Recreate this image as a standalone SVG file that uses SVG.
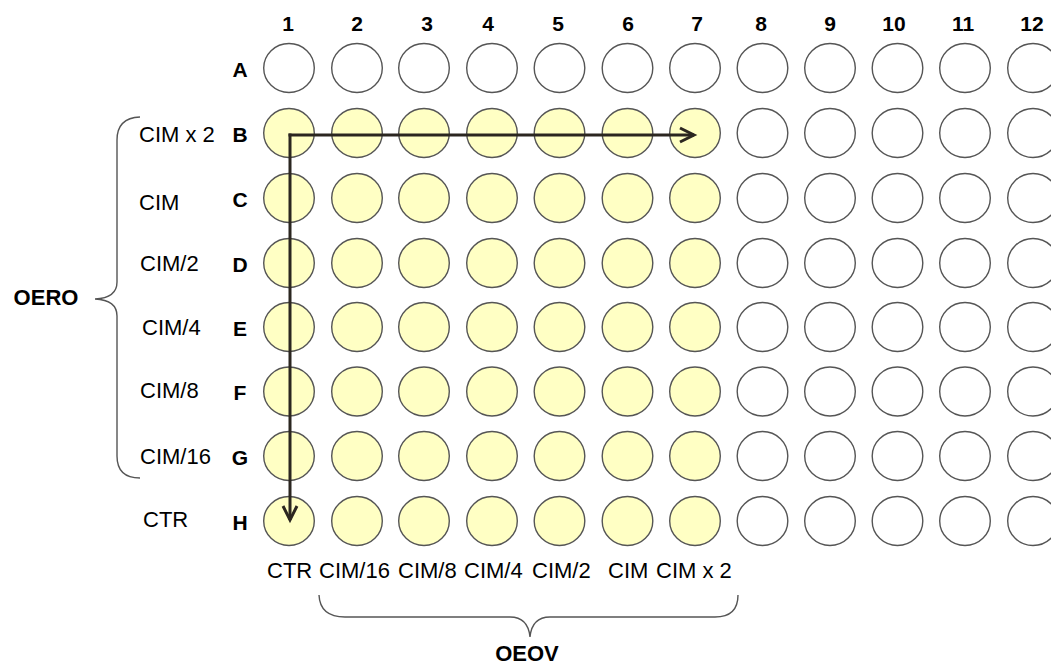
<svg xmlns="http://www.w3.org/2000/svg" width="1051" height="666" viewBox="0 0 1051 666">
<style>
.w{fill:#ffffff;stroke:#555555;stroke-width:1.4}
.y{fill:#ffffc4;stroke:#555555;stroke-width:1.4}
.hd{font-family:"Liberation Sans",Arial,sans-serif;font-weight:bold;font-size:21px;fill:#000;text-anchor:middle}
.lb{font-family:"Liberation Sans",Arial,sans-serif;font-size:22px;fill:#000}
.br{fill:none;stroke:#555555;stroke-width:1.4}
.ar{fill:none;stroke:#2b2620;stroke-width:3}
</style>
<defs>
<marker id="chev" markerUnits="userSpaceOnUse" markerWidth="20" markerHeight="20" viewBox="-16 -10 20 20" refX="0" refY="0" orient="auto">
<path d="M -14 -7 L 0 0 L -14 7" fill="none" stroke="#2b2620" stroke-width="3"/>
</marker>
</defs>
<g id="col-labels">
<text class="hd" x="288" y="31">1</text>
<text class="hd" x="357" y="31">2</text>
<text class="hd" x="427" y="31">3</text>
<text class="hd" x="488" y="31">4</text>
<text class="hd" x="558" y="31">5</text>
<text class="hd" x="628" y="31">6</text>
<text class="hd" x="697" y="31">7</text>
<text class="hd" x="761" y="31">8</text>
<text class="hd" x="830" y="31">9</text>
<text class="hd" x="894" y="31">10</text>
<text class="hd" x="963" y="31">11</text>
<text class="hd" x="1032" y="31">12</text>
</g>
<g id="row-labels">
<text class="hd" x="240" y="77">A</text>
<text class="hd" x="240" y="142">B</text>
<text class="hd" x="240" y="207">C</text>
<text class="hd" x="240" y="272">D</text>
<text class="hd" x="240" y="336">E</text>
<text class="hd" x="240" y="400">F</text>
<text class="hd" x="240" y="465">G</text>
<text class="hd" x="240" y="530">H</text>
</g>
<g id="oero-labels">
<text class="lb" x="139" y="142">CIM x 2</text>
<text class="lb" x="139" y="210">CIM</text>
<text class="lb" x="140" y="271">CIM/2</text>
<text class="lb" x="142" y="335">CIM/4</text>
<text class="lb" x="140" y="398">CIM/8</text>
<text class="lb" x="140" y="464">CIM/16</text>
<text class="lb" x="143" y="527">CTR</text>
</g>
<g id="oero">
<path class="br" d="M 140 117 Q 117 118 117 140 L 117 282 Q 117 298 95 299 Q 117 300 117 316 L 117 456 Q 117 478 140 478"/>
<text class="hd" x="46" y="305" style="font-size:22px">OERO</text>
</g>
<g id="oeov-labels">
<text class="lb" x="267" y="578">CTR</text>
<text class="lb" x="319" y="578">CIM/16</text>
<text class="lb" x="398" y="578">CIM/8</text>
<text class="lb" x="464" y="578">CIM/4</text>
<text class="lb" x="532" y="578">CIM/2</text>
<text class="lb" x="608" y="578">CIM</text>
<text class="lb" x="656" y="578">CIM x 2</text>
</g>
<g id="oeov">
<path class="br" d="M 319 595 Q 320 617 345 617 L 510 617 Q 528 617 530 637 Q 532 617 550 617 L 715 617 Q 738 617 738 595"/>
<text class="hd" x="527" y="661" style="font-size:22px">OEOV</text>
</g>
<g id="wells">
<g id="A1"><ellipse class="w" cx="289" cy="68" rx="25.3" ry="24.5"/></g>
<g id="A2"><ellipse class="w" cx="357" cy="68" rx="25.3" ry="24.5"/></g>
<g id="A3"><ellipse class="w" cx="424" cy="68" rx="25.3" ry="24.5"/></g>
<g id="A4"><ellipse class="w" cx="492" cy="68" rx="25.3" ry="24.5"/></g>
<g id="A5"><ellipse class="w" cx="559.5" cy="68" rx="25.3" ry="24.5"/></g>
<g id="A6"><ellipse class="w" cx="627.5" cy="68" rx="25.3" ry="24.5"/></g>
<g id="A7"><ellipse class="w" cx="695" cy="68" rx="25.3" ry="24.5"/></g>
<g id="A8"><ellipse class="w" cx="762.5" cy="68" rx="25.3" ry="24.5"/></g>
<g id="A9"><ellipse class="w" cx="830" cy="68" rx="25.3" ry="24.5"/></g>
<g id="A10"><ellipse class="w" cx="897.5" cy="68" rx="25.3" ry="24.5"/></g>
<g id="A11"><ellipse class="w" cx="965" cy="68" rx="25.3" ry="24.5"/></g>
<g id="A12"><ellipse class="w" cx="1033" cy="68" rx="25.3" ry="24.5"/></g>
<g id="B1"><ellipse class="y" cx="289" cy="133" rx="25.3" ry="24.5"/></g>
<g id="B2"><ellipse class="y" cx="357" cy="133" rx="25.3" ry="24.5"/></g>
<g id="B3"><ellipse class="y" cx="424" cy="133" rx="25.3" ry="24.5"/></g>
<g id="B4"><ellipse class="y" cx="492" cy="133" rx="25.3" ry="24.5"/></g>
<g id="B5"><ellipse class="y" cx="559.5" cy="133" rx="25.3" ry="24.5"/></g>
<g id="B6"><ellipse class="y" cx="627.5" cy="133" rx="25.3" ry="24.5"/></g>
<g id="B7"><ellipse class="y" cx="695" cy="133" rx="25.3" ry="24.5"/></g>
<g id="B8"><ellipse class="w" cx="762.5" cy="133" rx="25.3" ry="24.5"/></g>
<g id="B9"><ellipse class="w" cx="830" cy="133" rx="25.3" ry="24.5"/></g>
<g id="B10"><ellipse class="w" cx="897.5" cy="133" rx="25.3" ry="24.5"/></g>
<g id="B11"><ellipse class="w" cx="965" cy="133" rx="25.3" ry="24.5"/></g>
<g id="B12"><ellipse class="w" cx="1033" cy="133" rx="25.3" ry="24.5"/></g>
<g id="C1"><ellipse class="y" cx="289" cy="198" rx="25.3" ry="24.5"/></g>
<g id="C2"><ellipse class="y" cx="357" cy="198" rx="25.3" ry="24.5"/></g>
<g id="C3"><ellipse class="y" cx="424" cy="198" rx="25.3" ry="24.5"/></g>
<g id="C4"><ellipse class="y" cx="492" cy="198" rx="25.3" ry="24.5"/></g>
<g id="C5"><ellipse class="y" cx="559.5" cy="198" rx="25.3" ry="24.5"/></g>
<g id="C6"><ellipse class="y" cx="627.5" cy="198" rx="25.3" ry="24.5"/></g>
<g id="C7"><ellipse class="y" cx="695" cy="198" rx="25.3" ry="24.5"/></g>
<g id="C8"><ellipse class="w" cx="762.5" cy="198" rx="25.3" ry="24.5"/></g>
<g id="C9"><ellipse class="w" cx="830" cy="198" rx="25.3" ry="24.5"/></g>
<g id="C10"><ellipse class="w" cx="897.5" cy="198" rx="25.3" ry="24.5"/></g>
<g id="C11"><ellipse class="w" cx="965" cy="198" rx="25.3" ry="24.5"/></g>
<g id="C12"><ellipse class="w" cx="1033" cy="198" rx="25.3" ry="24.5"/></g>
<g id="D1"><ellipse class="y" cx="289" cy="263" rx="25.3" ry="24.5"/></g>
<g id="D2"><ellipse class="y" cx="357" cy="263" rx="25.3" ry="24.5"/></g>
<g id="D3"><ellipse class="y" cx="424" cy="263" rx="25.3" ry="24.5"/></g>
<g id="D4"><ellipse class="y" cx="492" cy="263" rx="25.3" ry="24.5"/></g>
<g id="D5"><ellipse class="y" cx="559.5" cy="263" rx="25.3" ry="24.5"/></g>
<g id="D6"><ellipse class="y" cx="627.5" cy="263" rx="25.3" ry="24.5"/></g>
<g id="D7"><ellipse class="y" cx="695" cy="263" rx="25.3" ry="24.5"/></g>
<g id="D8"><ellipse class="w" cx="762.5" cy="263" rx="25.3" ry="24.5"/></g>
<g id="D9"><ellipse class="w" cx="830" cy="263" rx="25.3" ry="24.5"/></g>
<g id="D10"><ellipse class="w" cx="897.5" cy="263" rx="25.3" ry="24.5"/></g>
<g id="D11"><ellipse class="w" cx="965" cy="263" rx="25.3" ry="24.5"/></g>
<g id="D12"><ellipse class="w" cx="1033" cy="263" rx="25.3" ry="24.5"/></g>
<g id="E1"><ellipse class="y" cx="289" cy="327" rx="25.3" ry="24.5"/></g>
<g id="E2"><ellipse class="y" cx="357" cy="327" rx="25.3" ry="24.5"/></g>
<g id="E3"><ellipse class="y" cx="424" cy="327" rx="25.3" ry="24.5"/></g>
<g id="E4"><ellipse class="y" cx="492" cy="327" rx="25.3" ry="24.5"/></g>
<g id="E5"><ellipse class="y" cx="559.5" cy="327" rx="25.3" ry="24.5"/></g>
<g id="E6"><ellipse class="y" cx="627.5" cy="327" rx="25.3" ry="24.5"/></g>
<g id="E7"><ellipse class="y" cx="695" cy="327" rx="25.3" ry="24.5"/></g>
<g id="E8"><ellipse class="w" cx="762.5" cy="327" rx="25.3" ry="24.5"/></g>
<g id="E9"><ellipse class="w" cx="830" cy="327" rx="25.3" ry="24.5"/></g>
<g id="E10"><ellipse class="w" cx="897.5" cy="327" rx="25.3" ry="24.5"/></g>
<g id="E11"><ellipse class="w" cx="965" cy="327" rx="25.3" ry="24.5"/></g>
<g id="E12"><ellipse class="w" cx="1033" cy="327" rx="25.3" ry="24.5"/></g>
<g id="F1"><ellipse class="y" cx="289" cy="391.5" rx="25.3" ry="24.5"/></g>
<g id="F2"><ellipse class="y" cx="357" cy="391.5" rx="25.3" ry="24.5"/></g>
<g id="F3"><ellipse class="y" cx="424" cy="391.5" rx="25.3" ry="24.5"/></g>
<g id="F4"><ellipse class="y" cx="492" cy="391.5" rx="25.3" ry="24.5"/></g>
<g id="F5"><ellipse class="y" cx="559.5" cy="391.5" rx="25.3" ry="24.5"/></g>
<g id="F6"><ellipse class="y" cx="627.5" cy="391.5" rx="25.3" ry="24.5"/></g>
<g id="F7"><ellipse class="y" cx="695" cy="391.5" rx="25.3" ry="24.5"/></g>
<g id="F8"><ellipse class="w" cx="762.5" cy="391.5" rx="25.3" ry="24.5"/></g>
<g id="F9"><ellipse class="w" cx="830" cy="391.5" rx="25.3" ry="24.5"/></g>
<g id="F10"><ellipse class="w" cx="897.5" cy="391.5" rx="25.3" ry="24.5"/></g>
<g id="F11"><ellipse class="w" cx="965" cy="391.5" rx="25.3" ry="24.5"/></g>
<g id="F12"><ellipse class="w" cx="1033" cy="391.5" rx="25.3" ry="24.5"/></g>
<g id="G1"><ellipse class="y" cx="289" cy="456" rx="25.3" ry="24.5"/></g>
<g id="G2"><ellipse class="y" cx="357" cy="456" rx="25.3" ry="24.5"/></g>
<g id="G3"><ellipse class="y" cx="424" cy="456" rx="25.3" ry="24.5"/></g>
<g id="G4"><ellipse class="y" cx="492" cy="456" rx="25.3" ry="24.5"/></g>
<g id="G5"><ellipse class="y" cx="559.5" cy="456" rx="25.3" ry="24.5"/></g>
<g id="G6"><ellipse class="y" cx="627.5" cy="456" rx="25.3" ry="24.5"/></g>
<g id="G7"><ellipse class="y" cx="695" cy="456" rx="25.3" ry="24.5"/></g>
<g id="G8"><ellipse class="w" cx="762.5" cy="456" rx="25.3" ry="24.5"/></g>
<g id="G9"><ellipse class="w" cx="830" cy="456" rx="25.3" ry="24.5"/></g>
<g id="G10"><ellipse class="w" cx="897.5" cy="456" rx="25.3" ry="24.5"/></g>
<g id="G11"><ellipse class="w" cx="965" cy="456" rx="25.3" ry="24.5"/></g>
<g id="G12"><ellipse class="w" cx="1033" cy="456" rx="25.3" ry="24.5"/></g>
<g id="H1"><ellipse class="y" cx="289" cy="521" rx="25.3" ry="24.5"/></g>
<g id="H2"><ellipse class="y" cx="357" cy="521" rx="25.3" ry="24.5"/></g>
<g id="H3"><ellipse class="y" cx="424" cy="521" rx="25.3" ry="24.5"/></g>
<g id="H4"><ellipse class="y" cx="492" cy="521" rx="25.3" ry="24.5"/></g>
<g id="H5"><ellipse class="y" cx="559.5" cy="521" rx="25.3" ry="24.5"/></g>
<g id="H6"><ellipse class="y" cx="627.5" cy="521" rx="25.3" ry="24.5"/></g>
<g id="H7"><ellipse class="y" cx="695" cy="521" rx="25.3" ry="24.5"/></g>
<g id="H8"><ellipse class="w" cx="762.5" cy="521" rx="25.3" ry="24.5"/></g>
<g id="H9"><ellipse class="w" cx="830" cy="521" rx="25.3" ry="24.5"/></g>
<g id="H10"><ellipse class="w" cx="897.5" cy="521" rx="25.3" ry="24.5"/></g>
<g id="H11"><ellipse class="w" cx="965" cy="521" rx="25.3" ry="24.5"/></g>
<g id="H12"><ellipse class="w" cx="1033" cy="521" rx="25.3" ry="24.5"/></g>
</g>
<g id="connectors">
<path class="ar" d="M 288.5 135 L 694 135" marker-end="url(#chev)"/>
<path class="ar" d="M 290 133.5 L 290 520" marker-end="url(#chev)"/>
</g>
</svg>
